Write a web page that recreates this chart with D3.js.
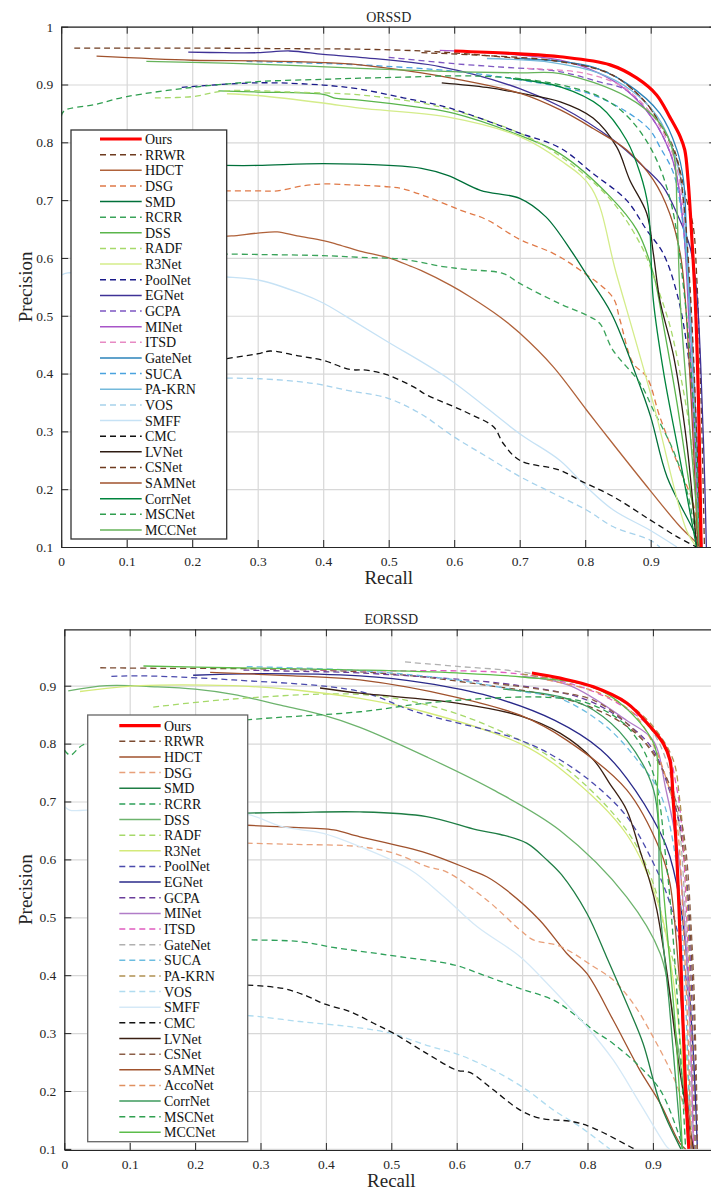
<!DOCTYPE html>
<html>
<head>
<meta charset="utf-8">
<script src="https://cdn.jsdelivr.net/npm/d3@7"></script>
<style>
body { margin: 0; background: #fff; }
svg { display: block; font-family: "Liberation Serif", "Times New Roman", serif; }
</style>
</head>
<body>
<script>
// ---------- ORSSD (top panel) PR curves: [recall, precision] ----------
var orssdOurs = [[0.60,0.958],[0.70,0.953],[0.762,0.948],[0.838,0.934],[0.879,0.911],[0.909,0.882],[0.929,0.844],[0.945,0.81],[0.952,0.787],[0.957,0.735],[0.963,0.631],[0.968,0.527],[0.973,0.35],[0.977,0.1]];
var orssdRRWR = [[0.02,0.963],[0.2,0.963],[0.35,0.962],[0.46,0.961],[0.55,0.958],[0.62,0.953],[0.7,0.945],[0.762,0.94],[0.838,0.919],[0.889,0.873],[0.914,0.833],[0.935,0.79],[0.945,0.75],[0.955,0.7],[0.965,0.654],[0.97,0.573],[0.977,0.35],[0.982,0.1]];
var orssdHDCT = [[0.23,0.636],[0.26,0.638],[0.30,0.643],[0.33,0.645],[0.36,0.638],[0.40,0.63],[0.42,0.624],[0.456,0.612],[0.50,0.6],[0.533,0.586],[0.55,0.578],[0.594,0.553],[0.624,0.533],[0.67,0.498],[0.70,0.47],[0.751,0.412],[0.802,0.337],[0.842,0.279],[0.899,0.198],[0.945,0.135],[0.97,0.107],[0.975,0.1]];
var orssdDSG = [[0.25,0.716],[0.3,0.716],[0.33,0.716],[0.37,0.725],[0.40,0.728],[0.45,0.726],[0.5,0.723],[0.52,0.72],[0.558,0.706],[0.609,0.683],[0.65,0.666],[0.70,0.632],[0.751,0.608],[0.792,0.579],[0.842,0.532],[0.853,0.493],[0.873,0.418],[0.894,0.394],[0.914,0.325],[0.945,0.233],[0.965,0.175],[0.975,0.1]];
var orssdSMD = [[0.25,0.76],[0.3,0.76],[0.4,0.763],[0.5,0.76],[0.55,0.755],[0.59,0.743],[0.64,0.717],[0.7,0.703],[0.74,0.671],[0.78,0.61],[0.8,0.575],[0.84,0.504],[0.88,0.39],[0.9,0.325],[0.925,0.221],[0.965,0.129],[0.975,0.1]];
var orssdRCRR = [[0.23,0.607],[0.3,0.606],[0.4,0.604],[0.456,0.601],[0.52,0.598],[0.583,0.585],[0.62,0.58],[0.675,0.573],[0.70,0.556],[0.761,0.521],[0.802,0.501],[0.822,0.487],[0.842,0.441],[0.884,0.383],[0.904,0.337],[0.934,0.268],[0.955,0.198],[0.97,0.118],[0.975,0.1]];
var orssdDSS = [[0.24,0.889],[0.3,0.887],[0.4,0.883],[0.42,0.876],[0.456,0.873],[0.55,0.86],[0.6,0.85],[0.7,0.812],[0.762,0.78],[0.838,0.706],[0.879,0.648],[0.904,0.573],[0.92,0.48],[0.94,0.35],[0.96,0.2],[0.975,0.1]];
var orssdRADF = [[0.143,0.877],[0.2,0.879],[0.25,0.889],[0.35,0.887],[0.456,0.882],[0.55,0.868],[0.6,0.855],[0.7,0.816],[0.762,0.776],[0.838,0.702],[0.886,0.62],[0.91,0.55],[0.93,0.48],[0.945,0.4],[0.96,0.3],[0.972,0.15],[0.976,0.1]];
var orssdR3Net = [[0.253,0.884],[0.3,0.881],[0.4,0.868],[0.456,0.859],[0.589,0.844],[0.7,0.81],[0.762,0.769],[0.81,0.72],[0.848,0.571],[0.904,0.348],[0.955,0.128],[0.97,0.1]];
var orssdPoolNet = [[0.184,0.895],[0.3,0.903],[0.4,0.899],[0.456,0.892],[0.522,0.877],[0.594,0.859],[0.7,0.816],[0.762,0.79],[0.812,0.746],[0.863,0.70],[0.894,0.648],[0.919,0.608],[0.94,0.539],[0.955,0.45],[0.968,0.3],[0.975,0.1]];
var orssdEGNet = [[0.194,0.956],[0.25,0.955],[0.3,0.955],[0.349,0.958],[0.4,0.952],[0.456,0.947],[0.578,0.931],[0.7,0.893],[0.762,0.862],[0.843,0.804],[0.889,0.758],[0.919,0.723],[0.94,0.677],[0.96,0.619],[0.97,0.544],[0.98,0.3],[0.985,0.1]];
var orssdGCPA = [[0.5,0.947],[0.6,0.936],[0.66,0.931],[0.762,0.922],[0.82,0.905],[0.863,0.89],[0.904,0.839],[0.929,0.784],[0.94,0.74],[0.95,0.654],[0.96,0.5],[0.97,0.3],[0.978,0.1]];
var orssdMINet = [[0.578,0.959],[0.65,0.955],[0.762,0.942],[0.82,0.92],[0.863,0.89],[0.904,0.839],[0.929,0.784],[0.94,0.74],[0.95,0.654],[0.958,0.5],[0.966,0.3],[0.975,0.1]];
var orssdITSD = [[0.711,0.928],[0.786,0.922],[0.83,0.91],[0.863,0.892],[0.904,0.845],[0.93,0.79],[0.942,0.745],[0.952,0.654],[0.962,0.5],[0.97,0.3],[0.978,0.1]];
var orssdGateNet = [[0.7,0.945],[0.762,0.94],[0.812,0.93],[0.863,0.902],[0.914,0.85],[0.94,0.787],[0.95,0.735],[0.955,0.63],[0.965,0.4],[0.977,0.1]];
var orssdSUCA = [[0.283,0.94],[0.35,0.938],[0.456,0.934],[0.609,0.922],[0.7,0.908],[0.762,0.896],[0.812,0.882],[0.863,0.853],[0.899,0.821],[0.914,0.792],[0.935,0.746],[0.95,0.65],[0.962,0.45],[0.975,0.1]];
var orssdPAKRN = [[0.65,0.945],[0.75,0.938],[0.82,0.92],[0.87,0.89],[0.91,0.845],[0.935,0.785],[0.948,0.72],[0.955,0.6],[0.965,0.4],[0.975,0.1]];
var orssdVOS = [[0.253,0.392],[0.304,0.391],[0.385,0.383],[0.441,0.37],[0.497,0.358],[0.548,0.331],[0.599,0.291],[0.65,0.256],[0.70,0.222],[0.751,0.193],[0.802,0.164],[0.843,0.135],[0.899,0.112],[0.914,0.1]];
var orssdSMFF = [[0,0.57],[0.01,0.574],[0.1,0.572],[0.2,0.569],[0.253,0.567],[0.304,0.561],[0.365,0.539],[0.40,0.522],[0.436,0.498],[0.497,0.456],[0.594,0.389],[0.70,0.296],[0.761,0.25],[0.802,0.204],[0.843,0.164],[0.899,0.129],[0.94,0.1]];
var orssdCMC = [[0.253,0.426],[0.304,0.435],[0.319,0.439],[0.365,0.43],[0.40,0.423],[0.441,0.407],[0.466,0.406],[0.497,0.398],[0.538,0.377],[0.558,0.363],[0.599,0.343],[0.624,0.33],[0.66,0.308],[0.675,0.279],[0.70,0.25],[0.761,0.233],[0.792,0.215],[0.843,0.187],[0.899,0.147],[0.94,0.118],[0.97,0.1]];
var orssdLVNet = [[0.581,0.903],[0.65,0.895],[0.7,0.885],[0.762,0.87],[0.812,0.842],[0.848,0.792],[0.868,0.735],[0.894,0.677],[0.904,0.608],[0.914,0.527],[0.935,0.43],[0.955,0.28],[0.97,0.1]];
var orssdCSNet = [[0.55,0.955],[0.65,0.95],[0.76,0.94],[0.84,0.917],[0.89,0.872],[0.92,0.82],[0.94,0.77],[0.95,0.7],[0.96,0.55],[0.97,0.3],[0.976,0.1]];
var orssdSAMNet = [[0.054,0.949],[0.2,0.942],[0.3,0.941],[0.4,0.938],[0.456,0.934],[0.55,0.92],[0.6,0.91],[0.7,0.885],[0.762,0.856],[0.812,0.824],[0.863,0.787],[0.904,0.735],[0.929,0.677],[0.945,0.608],[0.952,0.539],[0.962,0.35],[0.972,0.1]];
var orssdCorrNet = [[0.69,0.91],[0.762,0.896],[0.823,0.862],[0.863,0.804],[0.884,0.746],[0.896,0.689],[0.904,0.527],[0.92,0.4],[0.945,0.25],[0.97,0.1]];
var orssdMSCNet = [[0,0.845],[0.005,0.855],[0.05,0.865],[0.1,0.879],[0.2,0.895],[0.3,0.905],[0.4,0.909],[0.456,0.911],[0.533,0.913],[0.594,0.915],[0.65,0.914],[0.7,0.91],[0.76,0.9],[0.82,0.88],[0.86,0.85],[0.9,0.79],[0.93,0.7],[0.95,0.55],[0.965,0.35],[0.975,0.1]];
var orssdMCCNet = [[0.13,0.94],[0.25,0.937],[0.35,0.933],[0.456,0.928],[0.609,0.922],[0.7,0.92],[0.762,0.919],[0.863,0.879],[0.914,0.833],[0.935,0.78],[0.94,0.689],[0.945,0.527],[0.96,0.3],[0.975,0.1]];

var orssdNames = ["Ours","RRWR","HDCT","DSG","SMD","RCRR","DSS","RADF","R3Net","PoolNet","EGNet","GCPA","MINet","ITSD","GateNet","SUCA","PA-KRN","VOS","SMFF","CMC","LVNet","CSNet","SAMNet","CorrNet","MSCNet","MCCNet"];
var orssdCurves = [orssdOurs,orssdRRWR,orssdHDCT,orssdDSG,orssdSMD,orssdRCRR,orssdDSS,orssdRADF,orssdR3Net,orssdPoolNet,orssdEGNet,orssdGCPA,orssdMINet,orssdITSD,orssdGateNet,orssdSUCA,orssdPAKRN,orssdVOS,orssdSMFF,orssdCMC,orssdLVNet,orssdCSNet,orssdSAMNet,orssdCorrNet,orssdMSCNet,orssdMCCNet];
var orssdColors = ["#ff0000","#6e3b1f","#b0623a","#e07a48","#00703a","#3aa35a","#5ab54b","#a6d96a","#d4ec8a","#1b1b8a","#3f3296","#7e57c2","#a855c8","#e78ac3","#2b83ba","#4aa3df","#74b9db","#a6d2ec","#c6e2f5","#111111","#2d1b12","#6e3b1f","#a0522d","#00843d","#2f9e4f","#66b35a"];
var orssdDashed = [0,1,0,1,0,1,0,1,0,1,0,1,0,1,0,1,0,1,0,1,0,1,0,0,1,0];

// ---------- EORSSD (bottom panel) ----------
var eorssdOurs = [[0.715,0.922],[0.758,0.913],[0.809,0.898],[0.86,0.87],[0.896,0.829],[0.916,0.8],[0.926,0.772],[0.931,0.703],[0.936,0.616],[0.94,0.513],[0.945,0.35],[0.95,0.2],[0.955,0.1]];
var eorssdRRWR = [[0.055,0.931],[0.15,0.93],[0.3,0.929],[0.452,0.924],[0.55,0.915],[0.65,0.9],[0.72,0.888],[0.8,0.865],[0.86,0.83],[0.9,0.785],[0.93,0.71],[0.95,0.58],[0.962,0.35],[0.968,0.1]];
var eorssdHDCT = [[0.28,0.659],[0.335,0.656],[0.412,0.651],[0.442,0.642],[0.452,0.639],[0.554,0.611],[0.621,0.582],[0.646,0.57],[0.676,0.547],[0.727,0.495],[0.768,0.438],[0.799,0.403],[0.839,0.323],[0.88,0.236],[0.911,0.179],[0.941,0.11],[0.95,0.1]];
var eorssdDSG = [[0.279,0.628],[0.35,0.626],[0.452,0.622],[0.503,0.611],[0.554,0.588],[0.585,0.578],[0.646,0.53],[0.697,0.478],[0.717,0.461],[0.758,0.45],[0.809,0.415],[0.839,0.392],[0.87,0.351],[0.9,0.294],[0.931,0.225],[0.946,0.179],[0.962,0.104],[0.963,0.1]];
var eorssdSMD = [[0.279,0.68],[0.35,0.681],[0.452,0.682],[0.554,0.674],[0.631,0.651],[0.667,0.643],[0.707,0.628],[0.738,0.599],[0.76,0.574],[0.799,0.507],[0.829,0.432],[0.86,0.351],[0.885,0.282],[0.911,0.179],[0.941,0.104],[0.943,0.1]];
var eorssdRCRR = [[0.21,0.462],[0.284,0.461],[0.36,0.458],[0.411,0.448],[0.462,0.44],[0.513,0.432],[0.595,0.418],[0.646,0.398],[0.697,0.377],[0.748,0.357],[0.778,0.334],[0.809,0.305],[0.839,0.282],[0.88,0.242],[0.911,0.202],[0.937,0.133],[0.946,0.1]];
var eorssdDSS = [[0.006,0.891],[0.065,0.9],[0.141,0.898],[0.2,0.894],[0.258,0.885],[0.335,0.865],[0.396,0.849],[0.452,0.828],[0.554,0.777],[0.656,0.72],[0.758,0.65],[0.86,0.535],[0.911,0.438],[0.935,0.3],[0.95,0.18],[0.958,0.1]];
var eorssdRADF = [[0.136,0.863],[0.258,0.877],[0.452,0.885],[0.55,0.868],[0.65,0.83],[0.758,0.765],[0.86,0.65],[0.9,0.56],[0.92,0.47],[0.94,0.38],[0.955,0.2],[0.96,0.1]];
var eorssdR3Net = [[0.024,0.89],[0.116,0.9],[0.258,0.9],[0.35,0.893],[0.452,0.878],[0.55,0.855],[0.697,0.8],[0.758,0.757],[0.86,0.643],[0.911,0.513],[0.93,0.4],[0.945,0.25],[0.955,0.1]];
var eorssdPoolNet = [[0.072,0.916],[0.116,0.917],[0.258,0.91],[0.452,0.89],[0.537,0.855],[0.697,0.806],[0.758,0.772],[0.809,0.731],[0.86,0.674],[0.901,0.593],[0.926,0.524],[0.95,0.4],[0.96,0.25],[0.963,0.1]];
var eorssdEGNet = [[0.197,0.918],[0.3,0.921],[0.452,0.917],[0.55,0.905],[0.65,0.882],[0.75,0.84],[0.82,0.79],[0.86,0.74],[0.911,0.647],[0.926,0.605],[0.945,0.5],[0.96,0.3],[0.968,0.1]];
var eorssdGCPA = [[0.274,0.927],[0.35,0.925],[0.452,0.922],[0.697,0.9],[0.8,0.875],[0.86,0.835],[0.9,0.79],[0.925,0.72],[0.945,0.64],[0.958,0.4],[0.965,0.1]];
var eorssdMINet = [[0.7,0.916],[0.773,0.9],[0.86,0.84],[0.9,0.806],[0.92,0.72],[0.94,0.6],[0.955,0.35],[0.962,0.1]];
var eorssdITSD = [[0.3,0.93],[0.452,0.926],[0.697,0.92],[0.809,0.89],[0.885,0.84],[0.92,0.795],[0.936,0.726],[0.944,0.657],[0.955,0.4],[0.962,0.1]];
var eorssdGateNet = [[0.521,0.941],[0.605,0.933],[0.697,0.924],[0.8,0.9],[0.87,0.86],[0.91,0.8],[0.935,0.7],[0.95,0.5],[0.96,0.1]];
var eorssdSUCA = [[0.279,0.933],[0.452,0.926],[0.6,0.91],[0.7,0.89],[0.758,0.878],[0.829,0.829],[0.88,0.766],[0.911,0.714],[0.935,0.6],[0.95,0.35],[0.958,0.1]];
var eorssdPAKRN = [[0.7,0.92],[0.8,0.9],[0.86,0.87],[0.9,0.83],[0.931,0.772],[0.941,0.703],[0.948,0.616],[0.952,0.54],[0.958,0.35],[0.965,0.1]];
var eorssdVOS = [[0.25,0.331],[0.284,0.33],[0.36,0.32],[0.437,0.311],[0.498,0.3],[0.554,0.279],[0.605,0.262],[0.656,0.236],[0.707,0.202],[0.748,0.167],[0.789,0.138],[0.829,0.104],[0.834,0.1]];
var eorssdSMFF = [[0,0.692],[0.008,0.685],[0.034,0.685],[0.1,0.685],[0.2,0.683],[0.279,0.678],[0.335,0.656],[0.396,0.645],[0.452,0.622],[0.529,0.582],[0.58,0.536],[0.631,0.484],[0.697,0.432],[0.738,0.386],[0.799,0.311],[0.839,0.254],[0.88,0.179],[0.921,0.104],[0.925,0.1]];
var eorssdCMC = [[0.28,0.383],[0.335,0.377],[0.371,0.364],[0.396,0.351],[0.437,0.337],[0.473,0.317],[0.503,0.3],[0.554,0.265],[0.6,0.236],[0.62,0.232],[0.656,0.202],[0.697,0.167],[0.727,0.153],[0.778,0.147],[0.809,0.136],[0.87,0.101],[0.872,0.1]];
var eorssdLVNet = [[0.391,0.896],[0.452,0.887],[0.6,0.87],[0.697,0.848],[0.758,0.818],[0.809,0.772],[0.834,0.731],[0.86,0.685],[0.88,0.616],[0.896,0.559],[0.906,0.513],[0.921,0.409],[0.941,0.236],[0.962,0.1]];
var eorssdCSNet = [[0.656,0.904],[0.75,0.89],[0.809,0.875],[0.86,0.835],[0.9,0.783],[0.931,0.714],[0.947,0.645],[0.96,0.45],[0.966,0.25],[0.968,0.1]];
var eorssdSAMNet = [[0.223,0.923],[0.35,0.917],[0.452,0.91],[0.6,0.88],[0.697,0.849],[0.768,0.806],[0.86,0.72],[0.911,0.616],[0.926,0.559],[0.94,0.4],[0.952,0.2],[0.96,0.1]];
var eorssdAccoNet = [[0.738,0.91],[0.819,0.887],[0.87,0.852],[0.9,0.8],[0.921,0.737],[0.936,0.668],[0.948,0.45],[0.955,0.25],[0.958,0.1]];
var eorssdCorrNet = [[0.671,0.894],[0.758,0.881],[0.809,0.858],[0.86,0.806],[0.901,0.72],[0.911,0.513],[0.925,0.35],[0.94,0.15],[0.945,0.1]];
var eorssdMSCNet = [[0,0.789],[0.009,0.78],[0.029,0.798],[0.1,0.81],[0.2,0.83],[0.279,0.841],[0.452,0.855],[0.554,0.87],[0.646,0.878],[0.738,0.88],[0.8,0.87],[0.86,0.83],[0.9,0.75],[0.92,0.6],[0.935,0.4],[0.95,0.1]];
var eorssdMCCNet = [[0.121,0.934],[0.25,0.931],[0.452,0.927],[0.6,0.922],[0.7,0.915],[0.808,0.898],[0.86,0.86],[0.903,0.795],[0.907,0.7],[0.915,0.564],[0.935,0.3],[0.945,0.1]];

var eorssdNames = ["Ours","RRWR","HDCT","DSG","SMD","RCRR","DSS","RADF","R3Net","PoolNet","EGNet","GCPA","MINet","ITSD","GateNet","SUCA","PA-KRN","VOS","SMFF","CMC","LVNet","CSNet","SAMNet","AccoNet","CorrNet","MSCNet","MCCNet"];
var eorssdCurves = [eorssdOurs,eorssdRRWR,eorssdHDCT,eorssdDSG,eorssdSMD,eorssdRCRR,eorssdDSS,eorssdRADF,eorssdR3Net,eorssdPoolNet,eorssdEGNet,eorssdGCPA,eorssdMINet,eorssdITSD,eorssdGateNet,eorssdSUCA,eorssdPAKRN,eorssdVOS,eorssdSMFF,eorssdCMC,eorssdLVNet,eorssdCSNet,eorssdSAMNet,eorssdAccoNet,eorssdCorrNet,eorssdMSCNet,eorssdMCCNet];
var eorssdColors = ["#ff0000","#7b4a30","#a0522d","#e8a07a","#1e7d44","#2ea05a","#6db36d","#a6d96a","#d4ea7a","#4a4aad","#2a2a8a","#6a3d9a","#b17cc8","#e05cc0","#b0b0b0","#6cbde0","#b09050","#b0dcf0","#d5e9f7","#111111","#3a1f12","#8b5e47","#a0522d","#e0905f","#3c9a5c","#30a050","#5cbd4a"];
var eorssdDashed = [0,1,0,1,0,1,0,1,0,1,0,1,0,1,1,1,1,1,0,1,0,1,0,1,0,1,0];

var xTicks = [0, 0.1, 0.2, 0.3, 0.4, 0.5, 0.6, 0.7, 0.8, 0.9];
var orssdYTicks = [0.1, 0.2, 0.3, 0.4, 0.5, 0.6, 0.7, 0.8, 0.9, 1];
var eorssdYTicks = [0.1, 0.2, 0.3, 0.4, 0.5, 0.6, 0.7, 0.8, 0.9];

var width = 711;
var height = 1191;
var axisColor = "#262626";

var svg = d3.select("body").append("svg").attr("width", width).attr("height", height);

function fmt(d) {
    if (d === 0) return "0";
    if (d === 1) return "1";
    return d.toFixed(1);
}

function drawPanel(p) {
    var x = d3.scaleLinear().domain([0, 1]).range([p.left, p.right]);
    var y = d3.scaleLinear().domain(p.yDomain).range([p.bottom, p.top]);
    var h = p.bottom - p.top;
    var w = p.right - p.left;

    var g = svg.append("g");

    g.append("clipPath").attr("id", p.id + "-clip")
        .append("rect").attr("x", p.left).attr("y", p.top).attr("width", w).attr("height", h);

    // grid
    var gx = g.append("g")
        .attr("transform", "translate(0," + p.bottom + ")")
        .call(d3.axisBottom(x).tickValues(xTicks).tickSize(-h).tickFormat(""));
    var gy = g.append("g")
        .attr("transform", "translate(" + p.left + ",0)")
        .call(d3.axisLeft(y).tickValues(p.yTicks).tickSize(-w).tickFormat(""));
    [gx, gy].forEach(function(s) {
        s.select(".domain").remove();
        s.selectAll("line").attr("stroke", "#d8d8d8").attr("stroke-width", 1.2);
    });

    // curves, Ours drawn last so it sits on top
    var line = d3.line()
        .x(function(d) { return x(d[0]); })
        .y(function(d) { return y(d[1]); })
        .curve(d3.curveCatmullRom.alpha(0.5));

    var order = d3.range(p.curves.length).slice(1).concat([0]);
    g.append("g").attr("clip-path", "url(#" + p.id + "-clip)")
        .selectAll("path")
        .data(order)
        .enter()
        .append("path")
        .attr("d", function(i) { return line(p.curves[i]); })
        .attr("fill", "none")
        .attr("stroke", function(i) { return p.colors[i]; })
        .attr("stroke-width", function(i) { return i === 0 ? 3.2 : 1.3; })
        .attr("stroke-dasharray", function(i) { return p.dashed[i] ? "6,4" : null; });

    // axes, ticks pointing inward
    function styleAxis(s) {
        s.select(".domain").attr("stroke", axisColor).attr("stroke-width", 1.2);
        s.selectAll(".tick line").attr("stroke", axisColor);
        s.selectAll("text").attr("fill", axisColor).style("font-size", "13.5px")
            .style("font-family", "'Liberation Serif', 'Times New Roman', serif");
    }
    g.append("g").attr("transform", "translate(0," + p.bottom + ")")
        .call(d3.axisBottom(x).tickValues(xTicks).tickSizeInner(-7).tickSizeOuter(0).tickPadding(9).tickFormat(fmt))
        .call(styleAxis);
    g.append("g").attr("transform", "translate(0," + p.top + ")")
        .call(d3.axisTop(x).tickValues(xTicks).tickSizeInner(-7).tickSizeOuter(0).tickFormat(""))
        .call(styleAxis);
    g.append("g").attr("transform", "translate(" + p.left + ",0)")
        .call(d3.axisLeft(y).tickValues(p.yTicks).tickSizeInner(-7).tickSizeOuter(0).tickPadding(8).tickFormat(fmt))
        .call(styleAxis);
    g.append("g").attr("transform", "translate(" + p.right + ",0)")
        .call(d3.axisRight(y).tickValues(p.yTicks).tickSizeInner(-7).tickSizeOuter(0).tickFormat(""))
        .call(styleAxis);

    // title and axis labels
    g.append("text").attr("x", (p.left + p.right) / 2).attr("y", p.top - 5)
        .attr("text-anchor", "middle").style("font-size", "14px").attr("fill", axisColor).text(p.title);
    g.append("text").attr("x", (p.left + p.right) / 2).attr("y", p.bottom + 37)
        .attr("text-anchor", "middle").style("font-size", "19px").attr("fill", axisColor).text("Recall");
    g.append("text")
        .attr("transform", "translate(32," + ((p.top + p.bottom) / 2) + ") rotate(-90)")
        .attr("text-anchor", "middle").style("font-size", "19px").attr("fill", axisColor).text("Precision");

    // legend
    var lg = g.append("g");
    lg.append("rect")
        .attr("x", p.legend.x).attr("y", p.legend.y)
        .attr("width", p.legend.w).attr("height", p.legend.h)
        .attr("fill", "#fff").attr("stroke", p.legend.stroke).attr("stroke-width", 1.3);
    var items = lg.selectAll("g.item")
        .data(p.names)
        .enter()
        .append("g")
        .attr("class", "item")
        .attr("transform", function(d, i) { return "translate(0," + (p.legend.y0 + i * p.legend.step) + ")"; });
    items.append("line")
        .attr("x1", p.legend.lx1).attr("x2", p.legend.lx2)
        .attr("stroke", function(d, i) { return p.colors[i]; })
        .attr("stroke-width", function(d, i) { return i === 0 ? 3.2 : 1.5; })
        .attr("stroke-dasharray", function(d, i) { return p.dashed[i] ? "6,4" : null; });
    items.append("text")
        .attr("x", p.legend.tx).attr("y", 5)
        .style("font-size", "14px").attr("fill", "#111")
        .text(function(d) { return d; });
}

drawPanel({
    id: "orssd", title: "ORSSD",
    left: 61.2, right: 716.2, top: 26.7, bottom: 547,
    yDomain: [0.1, 1], yTicks: orssdYTicks,
    names: orssdNames, curves: orssdCurves, colors: orssdColors, dashed: orssdDashed,
    legend: { x: 71, y: 130, w: 155.7, h: 409, y0: 139, step: 15.64, lx1: 100, lx2: 141.7, tx: 145, stroke: "#333" }
});

drawPanel({
    id: "eorssd", title: "EORSSD",
    left: 64.3, right: 718.3, top: 629.3, bottom: 1150,
    yDomain: [0.0981, 0.9974], yTicks: eorssdYTicks,
    names: eorssdNames, curves: eorssdCurves, colors: eorssdColors, dashed: eorssdDashed,
    legend: { x: 87.7, y: 715, w: 160, h: 426.7, y0: 725.7, step: 15.64, lx1: 119.3, lx2: 160.7, tx: 164, stroke: "#666" }
});
</script>
</body>
</html>
